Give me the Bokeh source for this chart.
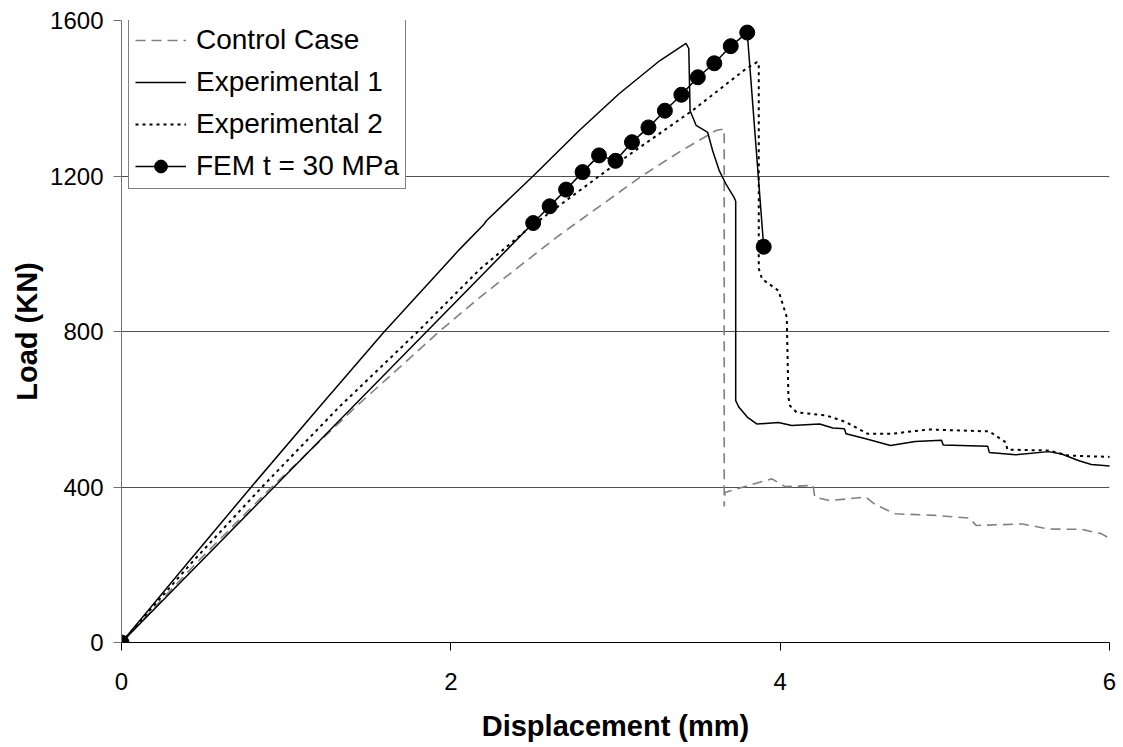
from bokeh.plotting import figure
from bokeh.models import Range1d, FixedTicker, Legend, LegendItem
from bokeh.embed import file_html
from bokeh.resources import INLINE

# ---- data ----
control_x = [0, 0.46, 0.913, 1.42, 1.93, 2.176, 2.65, 3.16, 3.40, 3.61, 3.66, 3.66, 3.665,
             3.81, 3.95, 4.03, 4.20, 4.21, 4.30, 4.52, 4.58, 4.70, 4.94, 5.15, 5.19, 5.47,
             5.63, 5.83, 5.95, 6.03]
control_y = [0, 207, 400, 605, 800, 888, 1045, 1200, 1265, 1317, 1321, 350, 386,
             404, 421, 401, 404, 374, 365, 374, 354, 331, 327, 320, 301, 305,
             292, 291, 280, 261]

exp1_x = [0, 0.40, 0.788, 1.19, 1.59, 2.05, 2.20, 2.216, 2.5, 2.78, 3.02, 3.27, 3.428,
          3.445, 3.453, 3.49, 3.56, 3.59, 3.63, 3.67, 3.72, 3.73, 3.73, 3.75, 3.80, 3.86,
          3.99, 4.07, 4.24, 4.32, 4.39, 4.40, 4.52, 4.67, 4.82, 4.98, 4.99, 5.26, 5.27,
          5.43, 5.63, 5.71, 5.81, 5.89, 6.03]
exp1_y = [0, 204, 400, 600, 797, 1010, 1075, 1085, 1200, 1317, 1411, 1497, 1541,
          1528, 1368, 1330, 1312, 1265, 1214, 1180, 1145, 1135, 622, 605, 580, 562,
          566, 558, 562, 552, 550, 537, 524, 507, 517, 520, 508, 505, 489,
          483, 491, 485, 468, 458, 453]

exp2_x = [0, 0.43, 0.853, 1.32, 1.80, 2.176, 2.48, 2.95, 3.469, 3.79, 3.86, 3.87, 3.87,
          3.89, 3.99, 4.04, 4.05, 4.06, 4.10, 4.28, 4.40, 4.53, 4.68, 4.90, 5.27, 5.37,
          5.38, 5.63, 5.75, 6.03]
exp2_y = [0, 207, 400, 605, 800, 960, 1068, 1215, 1369, 1475, 1493, 1490, 962,
          935, 905, 837, 631, 609, 592, 584, 567, 537, 537, 548, 543, 515,
          496, 494, 481, 477]

fem_x = [0, 2.5, 2.6, 2.7, 2.8, 2.9, 3.0, 3.1, 3.2, 3.3, 3.4, 3.5, 3.6, 3.7, 3.8, 3.9]
fem_y = [0, 1079, 1122, 1165, 1210, 1253, 1239, 1287, 1325, 1368, 1409, 1454, 1490,
         1534, 1569, 1018]

x_ticks = [0, 2, 4, 6]
y_ticks = [0, 400, 800, 1200, 1600]

FONT = "Liberation Sans"

p = figure(width=1123, height=747, output_backend="svg", toolbar_location=None,
           x_range=Range1d(0, 6), y_range=Range1d(0, 1600),
           min_border_left=121, min_border_right=14, min_border_top=20,
           min_border_bottom=105)
p.outline_line_color = None
p.background_fill_color = "white"
p.border_fill_color = "white"

p.xgrid.grid_line_color = None
p.ygrid.grid_line_color = "#505050"
p.ygrid.grid_line_width = 1

p.xaxis.ticker = FixedTicker(ticks=x_ticks)
p.yaxis.ticker = FixedTicker(ticks=y_ticks)
for ax in (p.xaxis[0], p.yaxis[0]):
    ax.minor_tick_line_color = None
    ax.major_tick_in = 0
    ax.major_tick_out = 8
    ax.major_label_text_font = FONT
    ax.major_label_text_font_size = "24px"
    ax.major_label_text_color = "black"
    ax.axis_label_text_font = FONT
    ax.axis_label_text_font_style = "bold"
    ax.axis_label_text_font_size = "29px"
    ax.axis_label_text_color = "black"
p.xaxis.axis_line_color = "black"
p.xaxis.major_tick_line_color = "black"
p.yaxis.axis_line_color = "#707070"
p.yaxis.major_tick_line_color = "#707070"
p.xaxis.major_label_standoff = 22
p.yaxis.major_label_standoff = 10
p.xaxis.axis_label = "Displacement (mm)"
p.yaxis.axis_label = "Load (KN)"
p.xaxis.axis_label_standoff = 17
p.yaxis.axis_label_standoff = 4

r_ctrl = p.line(control_x, control_y, line_color="#808080", line_width=1.6,
                line_dash="10 6")
r_e1 = p.line(exp1_x, exp1_y, line_color="black", line_width=1.5)
r_e2 = p.line(exp2_x, exp2_y, line_color="black", line_width=2, line_dash="3 4")
r_fem_l = p.line(fem_x, fem_y, line_color="black", line_width=1.5)
r_fem_m = p.scatter(fem_x, fem_y, size=15, marker="circle", fill_color="black",
                    line_color="black")

legend = Legend(items=[
    LegendItem(label="Control Case", renderers=[r_ctrl]),
    LegendItem(label="Experimental 1", renderers=[r_e1]),
    LegendItem(label="Experimental 2", renderers=[r_e2]),
    LegendItem(label="FEM t = 30 MPa", renderers=[r_fem_l, r_fem_m]),
], location=(7, 453))
legend.label_text_font = FONT
legend.label_text_font_size = "28px"
legend.label_text_color = "black"
legend.glyph_width = 51
legend.glyph_height = 32
legend.label_height = 32
legend.label_standoff = 10
legend.spacing = 10
legend.padding = 6
legend.margin = 0
legend.border_line_color = "black"
legend.border_line_width = 1
legend.background_fill_color = "white"
legend.background_fill_alpha = 1
p.add_layout(legend, "center")

open("out.html", "w").write(file_html(p, INLINE))
